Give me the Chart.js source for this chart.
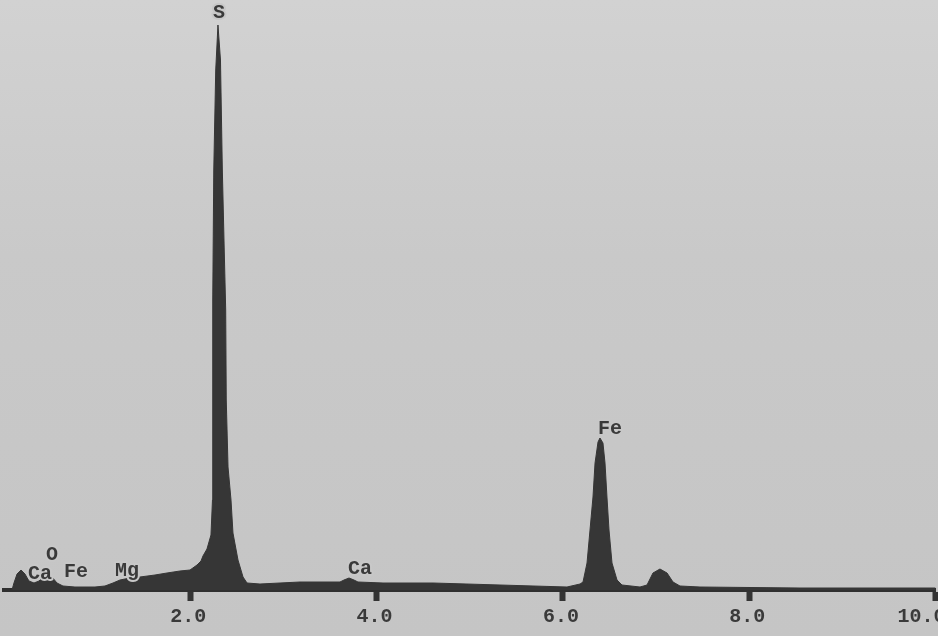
<!DOCTYPE html>
<html>
<head>
<meta charset="utf-8">
<script src="https://cdn.jsdelivr.net/npm/chart.js@4.4.1/dist/chart.umd.min.js"></script>
<style>
  body { margin: 0; background: #ffffff; }
  #frame {
    position: absolute; left: 0; top: 0;
    width: 938px; height: 636px; overflow: hidden;
    background: linear-gradient(#d2d2d2, #c9c9c9 40%, #c5c5c5);
  }
  #spectrum { display: block; }
</style>
</head>
<body>
<div id="frame"><canvas id="spectrum" width="990" height="636"></canvas></div>
<script>
// Energy (keV) and counts
var energy = [0.086, 0.107, 0.140, 0.183, 0.225, 0.268, 0.322, 0.376, 0.429, 0.472,
  0.515, 0.569, 0.633, 0.762, 0.977, 1.084, 1.170, 1.245, 1.353, 1.460,
  1.621, 1.750, 1.889, 1.997, 2.072, 2.115, 2.136, 2.179, 2.222, 2.238,
  2.241, 2.252, 2.273, 2.297, 2.324, 2.344, 2.365, 2.380, 2.386, 2.405,
  2.437, 2.458, 2.512, 2.566, 2.609, 2.748, 3.178, 3.607, 3.650, 3.704,
  3.757, 3.800, 4.069, 4.605, 5.325, 6.044, 6.184, 6.216, 6.259, 6.291,
  6.323, 6.345, 6.377, 6.398, 6.430, 6.452, 6.473, 6.495, 6.527, 6.581,
  6.634, 6.828, 6.903, 6.967, 7.042, 7.118, 7.182, 7.257, 7.472, 8.545, 10.0];
var counts = [0, 7, 16, 20, 16, 9, 7, 9, 14, 15,
  13, 7, 4, 3, 3, 4, 7, 10, 12, 13,
  15, 17, 19, 20, 25, 29, 34, 41, 55, 90,
  290, 420, 520, 565, 530, 420, 337, 280, 190, 123,
  90, 57, 30, 13, 7, 6, 8, 8, 10, 12,
  10, 8, 7, 7, 5, 3, 6, 8, 27, 60,
  93, 127, 148, 152, 147, 127, 93, 60, 27, 10,
  5, 3, 5, 17, 21, 17, 8, 4, 3, 2, 2];

var tickValues = [2, 4, 6, 8, 10];
var tickLabels = ['2.0', '4.0', '6.0', '8.0', '10.0  '];

// element labels: text, energy, counts height
var peakNames = ['S', 'Fe', 'O', 'Ca', 'Fe', 'Mg', 'Ca'];
var peakEnergy = [2.308, 6.506, 0.515, 0.386, 0.773, 1.320, 3.822];
var peakHeight = [577, 161, 35, 16, 18, 19, 21];

var points = energy.map(function (e, i) { return { x: e, y: counts[i] }; });

var peakLabels = {
  id: 'peakLabels',
  afterDatasetsDraw: function (chart) {
    var ctx = chart.ctx;
    var xs = chart.scales.x, ys = chart.scales.y;
    ctx.save();
    ctx.font = 'bold 20px "Liberation Mono", "DejaVu Sans Mono", monospace';
    ctx.textAlign = 'center';
    ctx.textBaseline = 'middle';
    ctx.lineJoin = 'round';
    for (var i = 0; i < peakNames.length; i++) {
      var px = xs.getPixelForValue(peakEnergy[i]);
      var py = ys.getPixelForValue(peakHeight[i]);
      ctx.lineWidth = 4;
      ctx.strokeStyle = '#c8c8c8';
      ctx.strokeText(peakNames[i], px, py);
      ctx.fillStyle = '#3a3a3a';
      ctx.fillText(peakNames[i], px, py);
    }
    ctx.restore();
  }
};

var element = document.getElementById('spectrum').getContext('2d');

var chart = new Chart(element, {
  type: 'line',
  data: {
    datasets: [{
      data: points,
      fill: 'origin',
      backgroundColor: '#363636',
      borderColor: '#363636',
      borderWidth: 1,
      pointRadius: 0,
      tension: 0
    }]
  },
  options: {
    responsive: false,
    animation: false,
    // x-axis height = tickLength + label line + 2 * padding
    layout: { padding: { left: 4, right: 54.5, top: 0, bottom: 3 } },
    plugins: { legend: { display: false }, tooltip: { enabled: false } },
    scales: {
      x: {
        type: 'linear',
        min: 0,
        max: 10,
        afterBuildTicks: function (scale) {
          scale.ticks = tickValues.map(function (v) { return { value: v }; });
        },
        ticks: {
          autoSkip: false,
          maxRotation: 0,
          padding: 4,
          labelOffset: -2,
          color: '#3a3a3a',
          font: { family: '"Liberation Mono", "DejaVu Sans Mono", monospace', size: 20, weight: 'bold' },
          callback: function (v) { return tickLabels[tickValues.indexOf(v)]; }
        },
        grid: {
          display: true,
          drawOnChartArea: false,
          drawTicks: true,
          tickLength: 11,
          tickWidth: 6,
          tickColor: '#333333'
        },
        border: { display: true, color: '#2f2f2f', width: 4 }
      },
      y: { display: false, min: 0, max: 590 }
    }
  },
  plugins: [peakLabels]
});
</script>
</body>
</html>
